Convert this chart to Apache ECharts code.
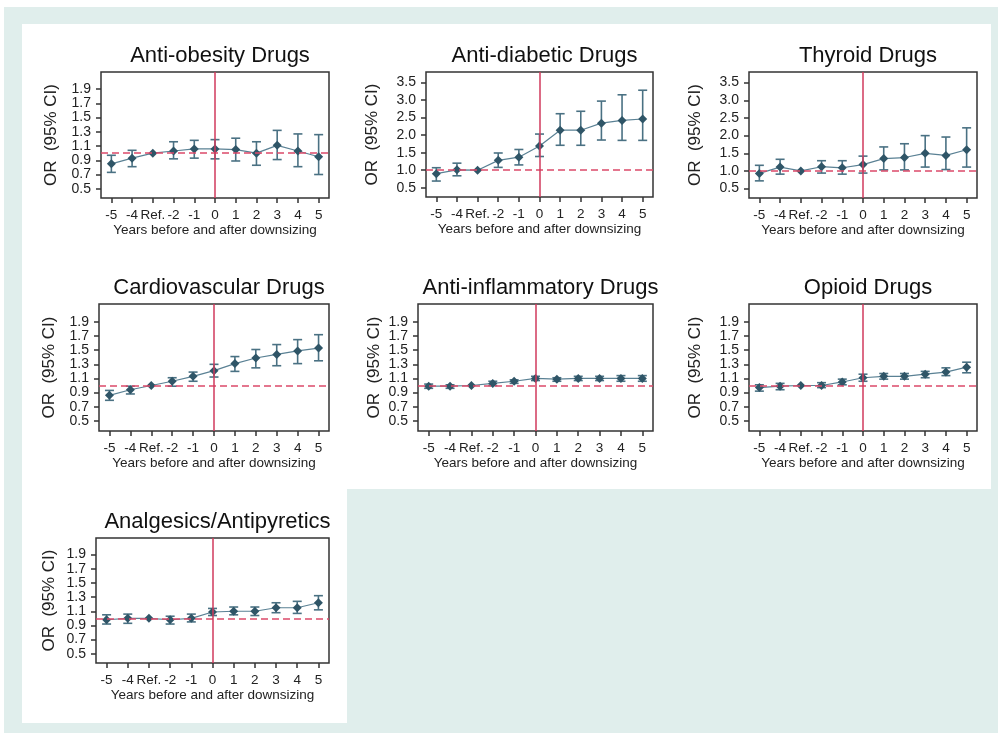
<!DOCTYPE html>
<html>
<head>
<meta charset="utf-8">
<style>
html,body{margin:0;padding:0;background:#ffffff;}
#chart{width:998px;height:733px;}
</style>
<script src="https://cdn.jsdelivr.net/npm/echarts@6/dist/echarts.min.js"></script>
</head>
<body>
<div id="chart"></div>
<script>
// ---- data ----
const years = [-5, -4, -3, -2, -1, 0, 1, 2, 3, 4, 5];
const yearLabels = ['-5', '-4', 'Ref.', '-2', '-1', '0', '1', '2', '3', '4', '5'];
const ticksSmall = [0.5, 0.7, 0.9, 1.1, 1.3, 1.5, 1.7, 1.9];
const ticksLarge = [0.5, 1.0, 1.5, 2.0, 2.5, 3.0, 3.5];
const titles = ['Anti-obesity Drugs', 'Anti-diabetic Drugs', 'Thyroid Drugs', 'Cardiovascular Drugs',
  'Anti-inflammatory Drugs', 'Opioid Drugs', 'Analgesics/Antipyretics'];

const obesityOR = [0.85, 0.93, 1.00, 1.03, 1.06, 1.06, 1.05, 1.00, 1.11, 1.03, 0.95];
const obesityLo = [0.73, 0.81, null, 0.92, 0.93, 0.92, 0.89, 0.83, 0.91, 0.81, 0.70];
const obesityHi = [0.97, 1.04, null, 1.16, 1.18, 1.19, 1.21, 1.16, 1.32, 1.27, 1.26];

const diabeticOR = [0.90, 1.01, 1.00, 1.28, 1.37, 1.69, 2.14, 2.14, 2.34, 2.42, 2.46];
const diabeticLo = [0.69, 0.84, null, 1.08, 1.15, 1.39, 1.71, 1.71, 1.86, 1.85, 1.85];
const diabeticHi = [1.07, 1.20, null, 1.49, 1.59, 2.03, 2.61, 2.68, 2.97, 3.15, 3.28];

const thyroidOR = [0.93, 1.11, 1.00, 1.12, 1.09, 1.18, 1.35, 1.38, 1.50, 1.44, 1.60];
const thyroidLo = [0.72, 0.91, null, 0.94, 0.91, 0.94, 1.03, 1.03, 1.11, 1.04, 1.11];
const thyroidHi = [1.16, 1.33, null, 1.29, 1.29, 1.42, 1.68, 1.77, 2.00, 1.96, 2.22];

const cardioOR = [0.86, 0.94, 1.00, 1.06, 1.13, 1.21, 1.31, 1.39, 1.44, 1.49, 1.53];
const cardioLo = [0.79, 0.88, null, 0.99, 1.06, 1.12, 1.20, 1.25, 1.28, 1.31, 1.35];
const cardioHi = [0.93, 0.99, null, 1.11, 1.19, 1.30, 1.41, 1.51, 1.58, 1.65, 1.72];

const inflamOR = [0.99, 0.99, 1.00, 1.03, 1.06, 1.10, 1.09, 1.10, 1.10, 1.10, 1.10];
const inflamLo = [0.96, 0.96, null, 1.00, 1.03, 1.07, 1.06, 1.07, 1.07, 1.06, 1.06];
const inflamHi = [1.02, 1.01, null, 1.06, 1.08, 1.13, 1.11, 1.13, 1.13, 1.14, 1.14];

const opioidOR = [0.97, 0.99, 1.00, 1.00, 1.05, 1.11, 1.13, 1.13, 1.16, 1.19, 1.26];
const opioidLo = [0.92, 0.94, null, 0.97, 1.01, 1.06, 1.09, 1.09, 1.11, 1.14, 1.18];
const opioidHi = [1.01, 1.03, null, 1.04, 1.09, 1.16, 1.17, 1.17, 1.20, 1.25, 1.33];

const analgOR = [0.98, 1.00, 1.00, 0.98, 1.00, 1.09, 1.10, 1.10, 1.15, 1.15, 1.22];
const analgLo = [0.92, 0.93, null, 0.92, 0.95, 1.04, 1.05, 1.04, 1.08, 1.07, 1.12];
const analgHi = [1.05, 1.06, null, 1.03, 1.06, 1.14, 1.16, 1.16, 1.22, 1.24, 1.32];

// ---- layout ----
const panels = [
  {or: obesityOR, lo: obesityLo, hi: obesityHi, g: [101, 72, 228, 126], y: [0.37, 2.14], t: ticksSmall, ng: 41},
  {or: diabeticOR, lo: diabeticLo, hi: diabeticHi, g: [426, 72, 227, 125], y: [0.235, 3.80], t: ticksLarge, ng: 45},
  {or: thyroidOR, lo: thyroidLo, hi: thyroidHi, g: [749, 72, 228, 126], y: [0.235, 3.80], t: ticksLarge, ng: 45},
  {or: cardioOR, lo: cardioLo, hi: cardioHi, g: [99, 304, 230, 127], y: [0.355, 2.155], t: ticksSmall, ng: 41},
  {or: inflamOR, lo: inflamLo, hi: inflamHi, g: [418, 304, 235, 127], y: [0.355, 2.155], t: ticksSmall, ng: 35},
  {or: opioidOR, lo: opioidLo, hi: opioidHi, g: [749, 304, 228, 127], y: [0.355, 2.155], t: ticksSmall, ng: 45},
  {or: analgOR, lo: analgLo, hi: analgHi, g: [96, 538, 233, 125], y: [0.37, 2.134], t: ticksSmall, ng: 38}
];

const FONT = '"Liberation Sans", Arial, sans-serif';
const markerColor = '#2f5567';
const lineColor = '#5a8194';
const errColor = '#4a7183';
const vColor = '#d03a5c';
const hColor = '#dc4a6a';

const grids = [], xAxes = [], yAxes = [], series = [], titleArr = [];

panels.forEach((p, i) => {
  const [l, t, w, h] = p.g;
  grids.push({left: l, top: t, width: w, height: h, show: true, borderColor: '#333', borderWidth: 1.5, backgroundColor: '#fff', containLabel: false});
  titleArr.push({text: titles[i], left: l + w / 2, top: t - 32, textAlign: 'center',
    textStyle: {fontFamily: FONT, fontSize: 22, fontWeight: 'normal', color: '#111'}});
  xAxes.push({
    type: 'value', gridIndex: i, min: -5.5, max: 5.5, position: 'bottom',
    splitLine: {show: false}, axisLine: {show: false, onZero: false},
    axisTick: {show: true, length: 5, customValues: years, lineStyle: {color: '#333', width: 1.5}},
    axisLabel: {customValues: years, formatter: v => yearLabels[years.indexOf(Math.round(v))],
      fontFamily: FONT, fontSize: 13.5, color: '#222', margin: 10, hideOverlap: false},
    name: 'Years before and after downsizing', nameLocation: 'middle', nameGap: 23,
    nameTextStyle: {fontFamily: FONT, fontSize: 13.5, color: '#222'}
  });
  yAxes.push({
    type: 'value', gridIndex: i, min: p.y[0], max: p.y[1], position: 'left',
    splitLine: {show: false}, axisLine: {show: false, onZero: false},
    axisTick: {show: true, length: 5, customValues: p.t, lineStyle: {color: '#333', width: 1.5}},
    axisLabel: {customValues: p.t, formatter: v => v.toFixed(1), fontFamily: FONT, fontSize: 14,
      color: '#222', margin: 10, hideOverlap: false},
    name: 'OR  (95% CI)', nameLocation: 'middle', nameGap: p.ng, nameRotate: 90,
    nameTextStyle: {fontFamily: FONT, fontSize: 17, color: '#222'}
  });
  const errData = [];
  years.forEach((yr, k) => { if (p.lo[k] != null) errData.push([yr, p.lo[k], p.hi[k]]); });
  series.push({
    type: 'custom', xAxisIndex: i, yAxisIndex: i, data: errData, encode: {x: 0, y: [1, 2]},
    silent: true, z: 3,
    renderItem: (params, api) => {
      const x = api.value(0);
      const a = api.coord([x, api.value(2)]);
      const b = api.coord([x, api.value(1)]);
      const cw = 4.5;
      const st = {stroke: errColor, lineWidth: 1.6};
      return {type: 'group', children: [
        {type: 'line', shape: {x1: a[0], y1: a[1], x2: b[0], y2: b[1]}, style: st},
        {type: 'line', shape: {x1: a[0] - cw, y1: a[1], x2: a[0] + cw, y2: a[1]}, style: st},
        {type: 'line', shape: {x1: b[0] - cw, y1: b[1], x2: b[0] + cw, y2: b[1]}, style: st}
      ]};
    }
  });
  series.push({
    type: 'line', xAxisIndex: i, yAxisIndex: i, z: 4,
    data: years.map((yr, k) => [yr, p.or[k]]),
    symbol: 'diamond', symbolSize: 9, showSymbol: true,
    itemStyle: {color: markerColor},
    lineStyle: {color: lineColor, width: 1.2},
    silent: true, animation: false,
    markLine: {
      silent: true, symbol: 'none', label: {show: false}, animation: false,
      data: [
        {yAxis: 1, lineStyle: {color: hColor, type: [7, 4], width: 1.5}},
        {xAxis: 0, lineStyle: {color: vColor, type: 'solid', width: 1.5}}
      ]
    }
  });
});

const chart = echarts.init(document.getElementById('chart'), null, {renderer: 'canvas'});
chart.setOption({
  backgroundColor: '#ffffff',
  animation: false,
  graphic: [
    {type: 'rect', shape: {x: 4, y: 7, width: 994, height: 726}, style: {fill: '#e0eeec'}, z: -10, silent: true},
    {type: 'rect', shape: {x: 22, y: 24, width: 969, height: 465}, style: {fill: '#ffffff'}, z: -9, silent: true},
    {type: 'rect', shape: {x: 22, y: 488, width: 325, height: 235}, style: {fill: '#ffffff'}, z: -9, silent: true}
  ],
  title: titleArr,
  grid: grids,
  xAxis: xAxes,
  yAxis: yAxes,
  series: series
});
</script>
</body>
</html>
